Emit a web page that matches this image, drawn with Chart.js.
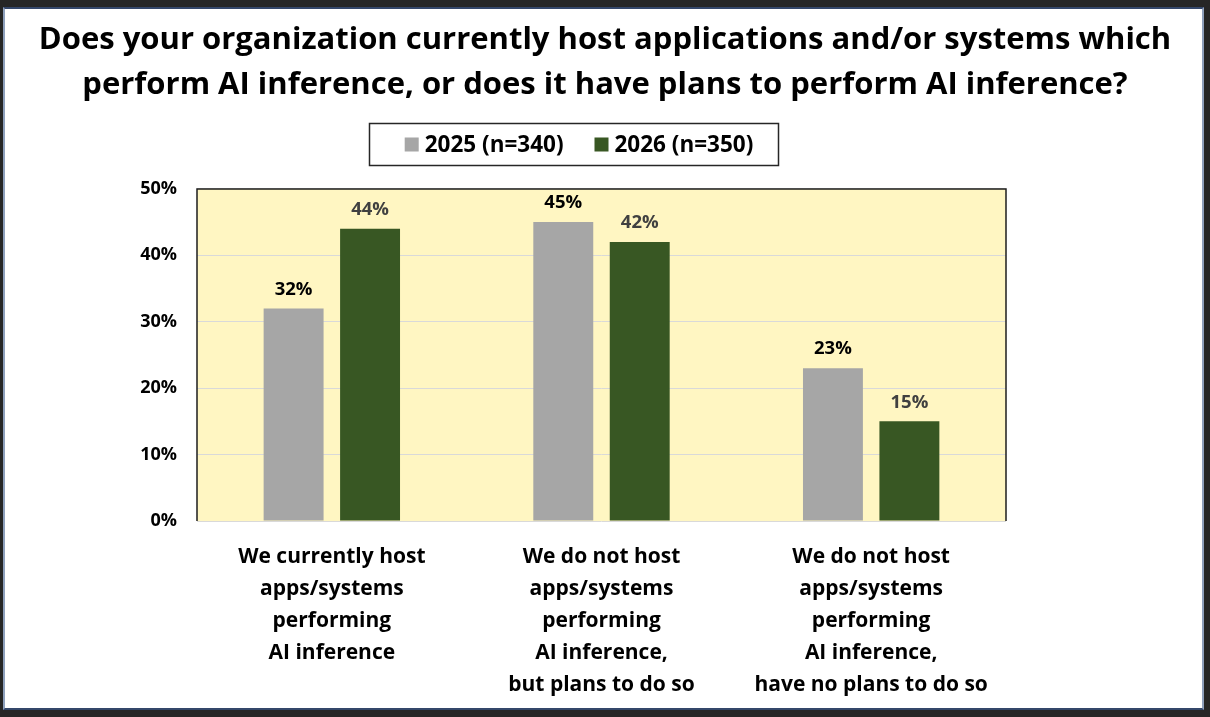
<!DOCTYPE html>
<html>
<head>
<meta charset="utf-8">
<script src="https://cdn.jsdelivr.net/npm/chart.js@4.4.1/dist/chart.umd.min.js"></script>
<style>
  html, body { margin: 0; padding: 0; }
  body { width: 1210px; height: 717px; background: #262626; position: relative; overflow: hidden; }
  .slide { position: absolute; left: 3px; top: 7px; width: 1201px; height: 703px; box-sizing: border-box;
           background: #fff; border: 2px solid #34476a; border-left-color: #8ea0bc; border-right-color: #8ea0bc; }
  #wrap { position: absolute; left: 0; top: 0; width: 1210px; height: 717px; }
</style>
</head>
<body>
<div class="slide"></div>
<div id="wrap"><canvas id="aiChart"></canvas></div>
<script>
const titleLines = [
  'Does your organization currently host applications and/or systems which',
  'perform AI inference, or does it have plans to perform AI inference?'
];
const categories = [
  ['We currently host', 'apps/systems', 'performing', 'AI inference'],
  ['We do not host', 'apps/systems', 'performing', 'AI inference,', 'but plans to do so'],
  ['We do not host', 'apps/systems', 'performing', 'AI inference,', 'have no plans to do so']
];
const seriesLabels = ['2025 (n=340)', '2026 (n=350)'];
const values2025 = [32, 45, 23];
const values2026 = [44, 42, 15];
const yTicks = [0, 10, 20, 30, 40, 50];

const FONT = '"Open Sans", Lato, sans-serif';
const labelColors = ['#000000', '#404040'];

// yellow plot background + dark frame on top/left/right
const plotFrame = {
  id: 'plotFrame',
  beforeDraw(chart) {
    const { ctx, chartArea: a } = chart;
    ctx.save();
    ctx.fillStyle = '#FFF6C2';
    ctx.fillRect(a.left, a.top, a.right - a.left, a.bottom - a.top);
    ctx.restore();
  },
  afterDatasetsDraw(chart) {
    const { ctx, chartArea: a } = chart;
    ctx.save();
    ctx.strokeStyle = '#1e1e1e';
    ctx.lineWidth = 1.5;
    ctx.beginPath();
    ctx.moveTo(a.left, a.bottom);
    ctx.lineTo(a.left, a.top);
    ctx.lineTo(a.right, a.top);
    ctx.lineTo(a.right, a.bottom);
    ctx.stroke();
    ctx.restore();
  }
};

// value labels above each bar
const barLabels = {
  id: 'barLabels',
  afterDatasetsDraw(chart) {
    const { ctx } = chart;
    ctx.save();
    ctx.font = 'bold 18.5px ' + FONT;
    ctx.textAlign = 'center';
    ctx.textBaseline = 'middle';
    chart.data.datasets.forEach((ds, i) => {
      ctx.fillStyle = labelColors[i];
      chart.getDatasetMeta(i).data.forEach((bar, j) => {
        ctx.fillText(ds.data[j] + '%', bar.x, bar.y - 19);
      });
    });
    ctx.restore();
  }
};

// boxed legend, sitting left of centre like the original
const boxLegend = {
  id: 'boxLegend',
  afterDraw(chart) {
    const { ctx } = chart;
    const box = { x: 369.5, y: 123.5, w: 409, h: 42 };
    ctx.save();
    ctx.strokeStyle = '#262626';
    ctx.lineWidth = 1.5;
    ctx.strokeRect(box.x, box.y, box.w, box.h);
    ctx.font = 'bold 22.5px ' + FONT;
    ctx.textBaseline = 'middle';
    const sq = 14, gapIn = 6, gapOut = 31;
    const widths = chart.data.datasets.map((ds) => ctx.measureText(ds.label).width);
    const total = widths.reduce((s, w) => s + sq + gapIn + w, 0) + gapOut;
    let x = box.x + box.w / 2 - total / 2 + 5;
    const cy = box.y + box.h / 2;
    chart.data.datasets.forEach((ds, i) => {
      ctx.fillStyle = ds.backgroundColor;
      ctx.fillRect(x, cy - sq / 2, sq, sq);
      x += sq + gapIn;
      ctx.fillStyle = '#000';
      ctx.fillText(ds.label, x, cy + 1);
      x += widths[i] + gapOut;
    });
    ctx.restore();
  }
};

new Chart(document.getElementById('aiChart'), {
  type: 'bar',
  data: {
    labels: categories,
    datasets: [
      { label: seriesLabels[0], data: values2025, backgroundColor: '#A6A6A6' },
      { label: seriesLabels[1], data: values2026, backgroundColor: '#385723' }
    ]
  },
  options: {
    responsive: true,
    maintainAspectRatio: false,
    animation: false,
    layout: { padding: 0 },
    datasets: { bar: { categoryPercentage: 0.567, barPercentage: 0.784 } },
    plugins: {
      legend: { display: false },
      tooltip: { enabled: false },
      title: {
        display: true,
        text: titleLines,
        color: '#000',
        font: { family: FONT, size: 31, weight: 'bold', lineHeight: 1.45 },
        padding: { top: 18, bottom: 81 }
      }
    },
    scales: {
      x: {
        grid: { display: false, drawTicks: false },
        border: { display: false },
        ticks: { color: '#000', padding: 20, font: { family: FONT, size: 21, weight: 'bold', lineHeight: 1.52 } },
        afterFit(scale) { scale.height = 196; }
      },
      y: {
        min: yTicks[0],
        max: yTicks[yTicks.length - 1],
        afterBuildTicks(scale) { scale.ticks = yTicks.map((v) => ({ value: v })); },
        grid: { color: '#D9D9D9', lineWidth: 1, drawTicks: false },
        border: { display: false },
        ticks: { color: '#000', padding: 20, font: { family: FONT, size: 18, weight: 'bold' }, callback: (v) => v + '%' },
        afterFit(scale) { scale.width = 197; }
      },
      yRight: {
        position: 'right',
        display: true,
        grid: { display: false, drawTicks: false },
        border: { display: false },
        ticks: { display: false },
        afterFit(scale) { scale.width = 204; }
      }
    }
  },
  plugins: [plotFrame, barLabels, boxLegend]
});
</script>
</body>
</html>
